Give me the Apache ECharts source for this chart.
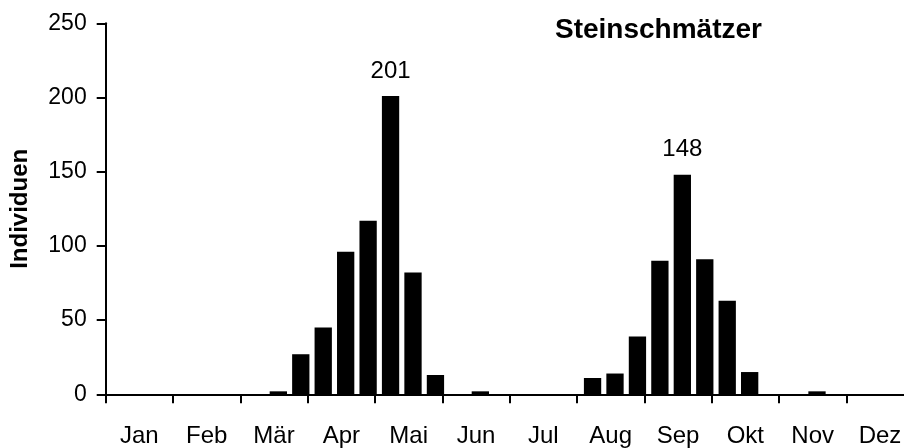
<!DOCTYPE html>
<html>
<head>
<meta charset="utf-8">
<script src="https://cdn.jsdelivr.net/npm/echarts@6/dist/echarts.min.js"></script>
<style>
html,body{margin:0;padding:0;background:#fff;}
#chart{width:904px;height:448px;}
</style>
</head>
<body>
<div id="chart"></div>
<script>
// ---- data ----
const months = ['Jan', 'Feb', 'Mär', 'Apr', 'Mai', 'Jun', 'Jul', 'Aug', 'Sep', 'Okt', 'Nov', 'Dez'];
const thirds = ['I', 'II', 'III'];
const counts = [
  0, 0, 0,   0, 0, 0,   0, 2, 27,   45, 96, 117,
  201, 82, 13,   0, 2, 0,   0, 0, 0,   11, 14, 39,
  90, 148, 91,   63, 15, 0,   0, 2, 0,   0, 0, 0
];
const labelledIndices = [12, 25];
const yTicks = { min: 0, max: 250, step: 50 };
const titleText = 'Steinschmätzer';
const yName = 'Individuen';

// ---- chart ----
const FONT = '"Liberation Sans", Arial, Helvetica, sans-serif';
const decades = [];
months.forEach(m => thirds.forEach(t => decades.push(m + ' ' + t)));

const barData = counts.map((v, i) => labelledIndices.includes(i)
  ? { value: v, label: { show: true } }
  : v);

const chart = echarts.init(document.getElementById('chart'), null, { renderer: 'canvas' });
chart.setOption({
  animation: false,
  backgroundColor: '#fff',
  title: {
    text: titleText,
    left: 555,
    top: 16,
    padding: 0,
    textStyle: { fontFamily: FONT, fontSize: 28, fontWeight: 'bold', color: '#000' }
  },
  grid: [
    { left: 110, top: 23.3, width: 808, height: 371, outerBoundsMode: 'none', containLabel: false },
    { left: 105.7, top: 23.3, width: 808, height: 371, outerBoundsMode: 'none', containLabel: false }
  ],
  xAxis: [
    { gridIndex: 0, type: 'category', data: decades, boundaryGap: true, show: false },
    {
      gridIndex: 1, type: 'category', data: months, boundaryGap: true,
      axisLine: { show: true, lineStyle: { color: '#000', width: 2 } },
      axisTick: { show: true, length: 9, alignWithLabel: false, interval: 0, lineStyle: { color: '#000', width: 2 } },
      axisLabel: { interval: 0, margin: 30, fontSize: 24, color: '#000', fontFamily: FONT },
      splitLine: { show: false }
    }
  ],
  yAxis: [
    { gridIndex: 0, type: 'value', min: yTicks.min, max: yTicks.max, interval: yTicks.step, show: false },
    {
      gridIndex: 1, type: 'value', min: yTicks.min, max: yTicks.max, interval: yTicks.step,
      name: yName, nameLocation: 'middle', nameGap: 73, nameRotate: 90,
      nameTextStyle: { fontFamily: FONT, fontSize: 24, fontWeight: 'bold', color: '#000' },
      axisLine: { show: true, lineStyle: { color: '#000', width: 2 } },
      axisTick: { show: true, length: 9, lineStyle: { color: '#000', width: 2 } },
      axisLabel: { margin: 19, fontSize: 23, color: '#000', fontFamily: FONT },
      splitLine: { show: false }
    }
  ],
  series: [{
    type: 'bar',
    xAxisIndex: 0,
    yAxisIndex: 0,
    data: barData,
    barWidth: 17.3,
    itemStyle: { color: '#000' },
    label: { show: false, position: 'top', distance: 13, fontSize: 24, color: '#000', fontFamily: FONT },
    z: 3
  }]
});
</script>
</body>
</html>
